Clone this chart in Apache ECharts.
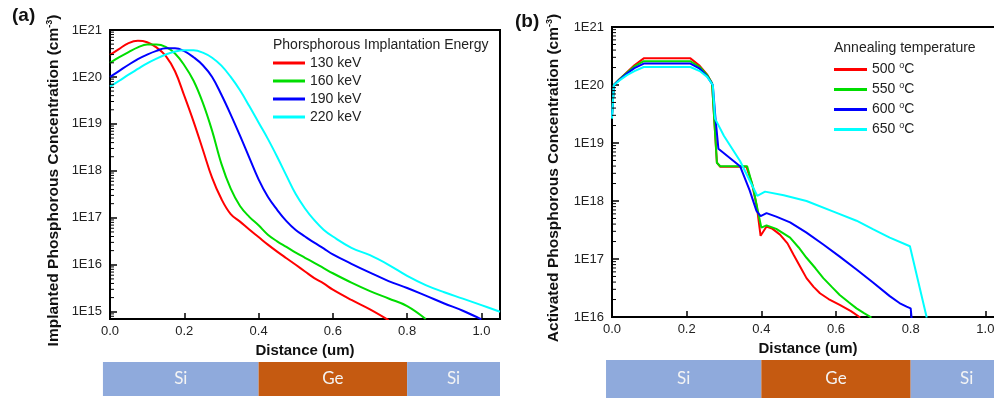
<!DOCTYPE html>
<html><head><meta charset="utf-8">
<script src="https://cdn.jsdelivr.net/npm/echarts@6/dist/echarts.min.js"></script>
<style>html,body{margin:0;padding:0;background:#fff;overflow:hidden}#c{width:994px;height:398px}</style>
</head><body><div id="c"></div>
<script>
// ---------- Panel (a): implanted profiles ----------
const distA = [0,0.025,0.05,0.075,0.1,0.125,0.15,0.175,0.2,0.225,0.25,0.275,0.3,0.325,0.35,0.375,0.4,0.425,0.45,0.475,0.5,0.525,0.55,0.575,0.6,0.65,0.7,0.75,0.8,0.85,0.9,0.95,1.0,1.05];
const keV130 = [2.95e20,3.98e20,5.25e20,5.89e20,5.5e20,4.27e20,2.82e20,1.32e20,3.98e19,1.12e19,2.82e18,7.08e17,2.51e17,1.2e17,8.3e16,5.62e16,3.89e16,2.69e16,1.91e16,1.38e16,1.0e16,7.2e15,5.2e15,4.0e15,2.95e15,1.78e15,1.12e15,6.6e14,null,null,null,null,null,null];
const keV160 = [2.0e20,2.63e20,3.39e20,4.27e20,4.9e20,4.9e20,4.37e20,3.16e20,1.78e20,8.3e19,2.8e19,7.1e18,1.41e18,4.17e17,1.78e17,1.05e17,6.92e16,4.37e16,3.16e16,2.4e16,1.82e16,1.41e16,1.1e16,8.5e15,6.6e15,4.17e15,2.75e15,1.91e15,1.32e15,7.0e14,null,null,null,null];
const keV190 = [1.0e20,1.35e20,1.82e20,2.4e20,3.0e20,3.6e20,4.1e20,4.1e20,3.55e20,2.63e20,1.78e20,1.0e20,4.17e19,1.58e19,5.62e18,1.91e18,6.61e17,2.8e17,1.48e17,8.5e16,5.5e16,4.0e16,2.95e16,2.24e16,1.66e16,1.05e16,6.8e15,4.5e15,3.2e15,2.2e15,1.5e15,1.05e15,6.9e14,null];
const keV220 = [6.2e19,8.3e19,1.12e20,1.48e20,1.95e20,2.45e20,3.0e20,3.47e20,3.7e20,3.7e20,3.3e20,2.57e20,1.74e20,1.0e20,5.2e19,2.4e19,1.07e19,4.8e18,2.0e18,7.9e17,3.2e17,1.58e17,8.9e16,5.6e16,4.0e16,2.3e16,1.6e16,1.0e16,5.8e15,3.7e15,2.6e15,1.9e15,1.38e15,1.0e15];
const energyNames = ['130 keV','160 keV','190 keV','220 keV'];

// ---------- Panel (b): activated profiles ----------
const dist500 = [0,0.005,0.02,0.04,0.06,0.085,0.21,0.235,0.255,0.268,0.281,0.29,0.36,0.375,0.388,0.398,0.414,0.43,0.45,0.47,0.486,0.503,0.521,0.54,0.557,0.58,0.61,0.64,0.665];
const t500 = [3.16e19,1e20,1.26e20,1.66e20,2.19e20,2.88e20,2.88e20,2.14e20,1.51e20,1.07e20,4.57e18,3.89e18,3.89e18,2.0e18,7.94e17,2.51e17,3.63e17,3.31e17,2.63e17,1.86e17,1.2e17,7.59e16,4.68e16,3.31e16,2.57e16,2.04e16,1.62e16,1.26e16,9.8e15];
const dist550 = [0,0.005,0.02,0.04,0.06,0.085,0.21,0.235,0.255,0.268,0.281,0.29,0.362,0.378,0.39,0.4,0.414,0.44,0.477,0.5,0.521,0.545,0.566,0.59,0.61,0.635,0.655,0.675,0.695];
const t550 = [3.02e19,1e20,1.26e20,1.62e20,2.09e20,2.57e20,2.57e20,2.04e20,1.48e20,1.07e20,4.57e18,3.98e18,3.98e18,1.7e18,7.08e17,3.47e17,3.8e17,3.31e17,2.34e17,1.58e17,1.05e17,6.92e16,4.68e16,3.24e16,2.4e16,1.78e16,1.41e16,1.17e16,9.8e15];
const dist600 = [0,0.005,0.02,0.04,0.06,0.085,0.21,0.235,0.255,0.27,0.277,0.285,0.343,0.369,0.387,0.392,0.398,0.414,0.44,0.477,0.52,0.566,0.61,0.655,0.7,0.744,0.77,0.789,0.8,0.803];
const t600 = [2.82e19,1e20,1.23e20,1.58e20,1.95e20,2.34e20,2.34e20,1.91e20,1.41e20,1e20,2.75e19,7.94e18,3.98e18,1.51e18,6.76e17,6.31e17,5.5e17,6.17e17,5.37e17,4.27e17,2.88e17,1.78e17,1.1e17,6.61e16,3.89e16,2.29e16,1.74e16,1.51e16,1.41e16,8.9e15];
const dist650 = [0,0.005,0.02,0.04,0.06,0.085,0.21,0.235,0.255,0.27,0.276,0.3,0.343,0.369,0.389,0.41,0.46,0.521,0.6,0.655,0.7,0.744,0.798,0.843];
const t650 = [2.63e19,1e20,1.2e20,1.48e20,1.74e20,2.04e20,2.04e20,1.74e20,1.38e20,1e20,2.63e19,1.32e19,4.9e18,2.24e18,1.23e18,1.45e18,1.26e18,1.0e18,6.31e17,4.57e17,3.24e17,2.34e17,1.66e17,9.8e15];
const tempNames = ['500 °C','550 °C','600 °C','650 °C'];

// ---------- layer strips ----------
const layerNames = ['Si','Ge','Si'];
const layerStartA = [-0.019, 0.4, 0.8];
const layerEndA = [0.4, 0.8, 1.05];
const layerStartB = [-0.016, 0.4, 0.8];
const layerEndB = [0.4, 0.8, 1.1];
const xTicks = [0, 0.2, 0.4, 0.6, 0.8, 1.0];
const minorMultipliers = [2,3,4,5,6,7,8,9];

const lineColors = ['#ff0000','#00dd00','#0000ff','#00ffff'];
const layerColors = {Si:'#8faadc', Ge:'#c55a11'};
const FONT = 'Liberation Sans, Arial, sans-serif';

function pair(xs, ys){ return xs.map((x,i)=>[x, ys[i]]); }
function logLabel(v){
  const e = Math.log10(v);
  if (Math.abs(e - Math.round(e)) < 1e-6) return '1E' + Math.round(e);
  return '';
}
function xLabel(v){
  for (const t of xTicks) if (Math.abs(v - t) < 1e-9) return t.toFixed(1);
  return '';
}
function minorTickValues(lo, hi){
  const out = [];
  for (let e = Math.floor(Math.log10(lo)); e < Math.ceil(Math.log10(hi)); e++)
    for (const m of minorMultipliers){ const v = m * Math.pow(10, e); if (v > lo && v < hi) out.push(v); }
  return out;
}

function xAxisCfg(gi, gap){
  return {
    type:'value', gridIndex:gi, min:0, max:1.05, interval:0.2,
    name:'Distance (um)', nameLocation:'middle', nameGap:gap,
    nameTextStyle:{fontSize:15, fontWeight:'bold', color:'#111', fontFamily:FONT},
    axisLine:{show:true, onZero:false, lineStyle:{color:'#000', width:2}},
    axisTick:{show:true, inside:true, length:6, lineStyle:{color:'#000', width:1.5}},
    axisLabel:{formatter:xLabel, fontSize:13, color:'#222', margin:6, fontFamily:FONT},
    splitLine:{show:false}
  };
}
function yAxisCfg(gi, min, name, gap){
  return {
    type:'log', logBase:10, gridIndex:gi, min:min, max:1e21, position:'left',
    name:name, nameLocation:'middle', nameGap:gap,
    nameTextStyle:{fontSize:15.5, fontWeight:'bold', color:'#111', fontFamily:FONT, lineHeight:18, padding:[0,12,0,0],
      rich:{sup:{fontSize:9, fontWeight:'bold', color:'#111', verticalAlign:'top', lineHeight:18, fontFamily:FONT}}},
    axisLine:{show:true, onZero:false, lineStyle:{color:'#000', width:2}},
    axisTick:{show:true, inside:true, length:7, lineStyle:{color:'#000', width:1.5}},
    axisLabel:{formatter:logLabel, fontSize:13, color:'#222', margin:8, fontFamily:FONT},
    splitLine:{show:false}
  };
}
function minorTickSeries(gi, lo){
  return {
    type:'custom', xAxisIndex:gi, yAxisIndex:gi, clip:false, silent:true, z:5,
    data: minorTickValues(lo, 1e21).map(v=>[0, v]),
    renderItem:(params, api)=>{
      const p = api.coord([api.value(0), api.value(1)]);
      return {type:'line', shape:{x1:p[0], y1:p[1], x2:p[0]+4, y2:p[1]}, style:{stroke:'#000', lineWidth:1}};
    }
  };
}
function stripSeries(gi, starts, ends){
  return {
    type:'custom', xAxisIndex:gi, yAxisIndex:gi, clip:false, silent:true,
    data: starts.map((s,i)=>[s, ends[i]]),
    renderItem:(params, api)=>{
      const p0 = api.coord([api.value(0), 1]);
      const p1 = api.coord([api.value(1), 0]);
      const nm = layerNames[params.dataIndex];
      return {
        type:'rect',
        shape:{x:p0[0], y:p0[1], width:p1[0]-p0[0], height:p1[1]-p0[1]},
        style:{fill:layerColors[nm]},
        textContent:{style:{text:nm, fill:'#f4f4f4', fontSize:17, fontFamily:'Lato, Open Sans, sans-serif'}},
        textConfig:{position:'inside'}
      };
    }
  };
}
function hiddenX(gi){ return {type:'value', gridIndex:gi, min:0, max:1.05, show:false}; }
function hiddenY(gi){ return {type:'value', gridIndex:gi, min:0, max:1, show:false}; }

const seriesA = [keV130,keV160,keV190,keV220].map((d,i)=>({
  name:energyNames[i], type:'line', xAxisIndex:0, yAxisIndex:0, data:pair(distA, d),
  showSymbol:false, symbol:'none', smooth:0.4, connectNulls:false,
  lineStyle:{color:lineColors[i], width:2}, itemStyle:{color:lineColors[i]}
}));
const distB = [dist500, dist550, dist600, dist650];
const seriesB = [t500,t550,t600,t650].map((d,i)=>({
  name:tempNames[i], type:'line', xAxisIndex:1, yAxisIndex:1, data:pair(distB[i], d),
  showSymbol:false, symbol:'none', smooth:false,
  lineStyle:{color:lineColors[i], width:2}, itemStyle:{color:lineColors[i]}
}));

const gridBase = {outerBoundsMode:'none', containLabel:false};
const chart = echarts.init(document.getElementById('c'), null, {renderer:'canvas'});
chart.setOption({
  animation:false,
  backgroundColor:'#fff',
  textStyle:{fontFamily:FONT},
  title:[
    {text:'(a)', left:12, top:6, padding:0, textStyle:{fontSize:19, fontWeight:'bold', color:'#111', fontFamily:FONT}},
    {text:'(b)', left:515, top:12, padding:0, textStyle:{fontSize:19, fontWeight:'bold', color:'#111', fontFamily:FONT}},
    {text:'Phorsphorous Implantation Energy', left:273, top:38, padding:0, textStyle:{fontSize:14, fontWeight:'normal', color:'#222', fontFamily:FONT}},
    {text:'Annealing temperature', left:834, top:41, padding:0, textStyle:{fontSize:14, fontWeight:'normal', color:'#222', fontFamily:FONT}}
  ],
  legend:[
    {data:energyNames, orient:'vertical', left:273, top:55, padding:0, itemWidth:32, itemHeight:3, itemGap:2, icon:'rect',
     textStyle:{fontSize:14, color:'#222', fontFamily:FONT, lineHeight:16}},
    {data:tempNames, orient:'vertical', left:834, top:61, padding:0, itemWidth:33, itemHeight:3, itemGap:3, icon:'rect',
     formatter:(n)=> n.replace(' °C',' {sup|o}C'),
     textStyle:{fontSize:14, color:'#222', fontFamily:FONT, lineHeight:17,
       rich:{sup:{fontSize:9, color:'#222', verticalAlign:'top', lineHeight:17, fontFamily:FONT}}}}
  ],
  grid:[
    Object.assign({left:110, right:494, top:30, bottom:79, show:true, borderColor:'#000', borderWidth:2, backgroundColor:'transparent'}, gridBase),
    Object.assign({left:612, width:392, top:27, bottom:81, show:true, borderColor:'#000', borderWidth:2, backgroundColor:'transparent'}, gridBase),
    Object.assign({left:110, right:494, top:362, height:34}, gridBase),
    Object.assign({left:612, width:392, top:360, height:38}, gridBase)
  ],
  xAxis:[xAxisCfg(0, 23), xAxisCfg(1, 22), hiddenX(2), hiddenX(3)],
  yAxis:[
    yAxisCfg(0, 7e14, 'Implanted Phosphorous Concentration (cm{sup|-3})', 47),
    yAxisCfg(1, 1e16, 'Activated Phosphorous Concentration (cm{sup|-3})', 49),
    hiddenY(2), hiddenY(3)
  ],
  series:[].concat(seriesA, seriesB, [
    minorTickSeries(0, 7e14), minorTickSeries(1, 1e16),
    stripSeries(2, layerStartA, layerEndA), stripSeries(3, layerStartB, layerEndB)])
});
</script></body></html>
